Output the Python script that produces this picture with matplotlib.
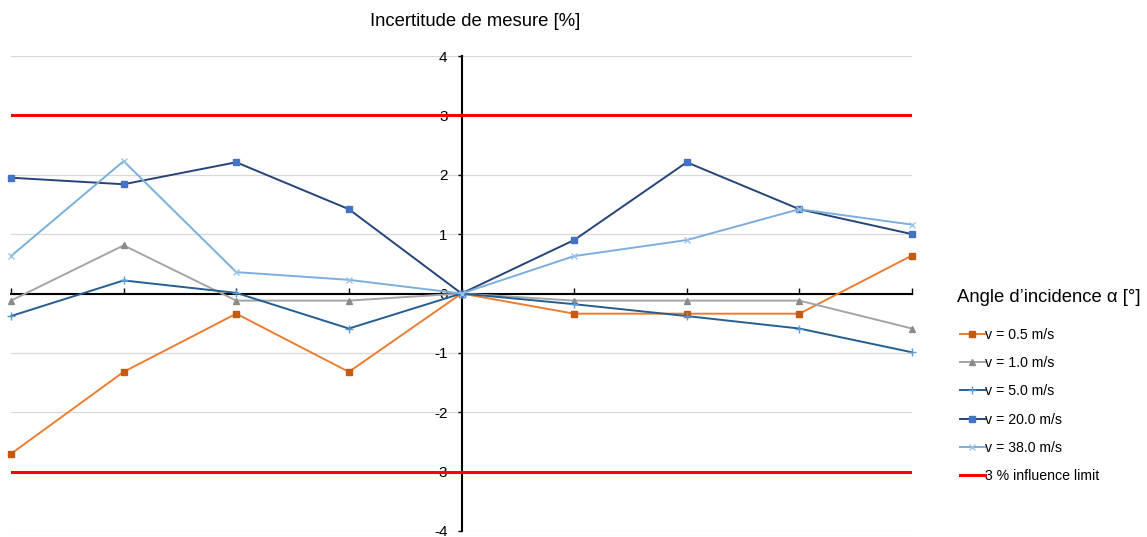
import matplotlib
matplotlib.use("Agg")
import matplotlib.pyplot as plt

plt.rcParams['font.family'] = ['Liberation Sans', 'DejaVu Sans']

angles = [-20, -15, -10, -5, 0, 5, 10, 15, 20]
v05 = [-2.70, -1.32, -0.34, -1.32, 0.0, -0.34, -0.34, -0.34, 0.64]
v10 = [-0.12, 0.81, -0.12, -0.12, 0.0, -0.12, -0.12, -0.12, -0.59]
v50 = [-0.38, 0.22, 0.01, -0.59, 0.0, -0.18, -0.38, -0.59, -0.99]
v200 = [1.95, 1.84, 2.21, 1.42, 0.0, 0.90, 2.21, 1.42, 1.00]
v380 = [0.63, 2.23, 0.36, 0.23, 0.0, 0.63, 0.90, 1.42, 1.16]
limit = 3
yticks = [-4, -3, -2, -1, 0, 1, 2, 3, 4]
labels = ["v = 0.5 m/s", "v = 1.0 m/s", "v = 5.0 m/s", "v = 20.0 m/s", "v = 38.0 m/s",
          "3 % influence limit"]

W, H = 1147, 537
fig = plt.figure(figsize=(W / 100, H / 100), dpi=100)
ax = fig.add_axes([11 / W, (H - 531) / H, (912 - 11) / W, (531 - 56) / H])
ax.set_xlim(angles[0], angles[-1])
ax.set_ylim(yticks[0], yticks[-1])

for y in yticks:
    ax.axhline(y, color='#d9d9d9', lw=0.9, zorder=0)

series = [
    (v05, dict(color='#ED7D31', marker='s', ms=4.8, mfc='#C55A11', mec='#C55A11')),
    (v10, dict(color='#A5A5A5', marker='^', ms=5, mfc='#8C8C8C', mec='#8C8C8C')),
    (v50, dict(color='#255E91', marker='+', ms=5.5, mfc='#5B9BD5', mec='#5B9BD5', mew=1.0)),
    (v200, dict(color='#264478', marker='s', ms=4.8, mfc='#4472C4', mec='#4472C4')),
    (v380, dict(color='#7CAFDD', marker='x', ms=4.5, mfc='#9DC3E6', mec='#9DC3E6', mew=1.0)),
]
handles = []
for (vals, st), lab in zip(series, labels[:5]):
    h, = ax.plot(angles, vals, lw=1.4, clip_on=False, zorder=3, label=lab, **st)
    handles.append(h)

hl = ax.axhline(limit, color='#FF0000', lw=2.2, zorder=2, label=labels[5])
ax.axhline(-limit, color='#FF0000', lw=2.2, zorder=2)
handles.append(hl)

for s in ['top', 'right']:
    ax.spines[s].set_visible(False)
ax.spines['left'].set_position(('data', 0))
ax.spines['bottom'].set_position(('data', 0))
ax.spines['left'].set_linewidth(1.5)
ax.spines['bottom'].set_linewidth(1.5)
ax.spines['left'].set_zorder(1)
ax.spines['bottom'].set_zorder(1)

ax.set_xticks(angles)
ax.set_xticklabels([''] * len(angles))
ax.tick_params(axis='x', direction='in', length=4, width=1.0)
ax.set_yticks(yticks)
ax.set_yticklabels([str(y) for y in yticks], fontsize=11)
ax.tick_params(axis='y', direction='out', length=3, width=1.0, pad=7)

fig.text(475 / W, 1 - 22 / H, "Incertitude de mesure [%]", ha='center', va='center', fontsize=13.3)
fig.text(957 / W, 1 - 297 / H, "Angle d\u2019incidence \u03b1 [°]", ha='left', va='center', fontsize=13.3)

fig.legend(handles=handles, labels=labels, loc='upper left',
           bbox_to_anchor=(960 / W, 1 - 328 / H), frameon=False, fontsize=10.2,
           handlelength=1.75, handletextpad=0.05, labelspacing=1.0, borderaxespad=0,
           borderpad=0)

fig.savefig("out.png", dpi=100)
